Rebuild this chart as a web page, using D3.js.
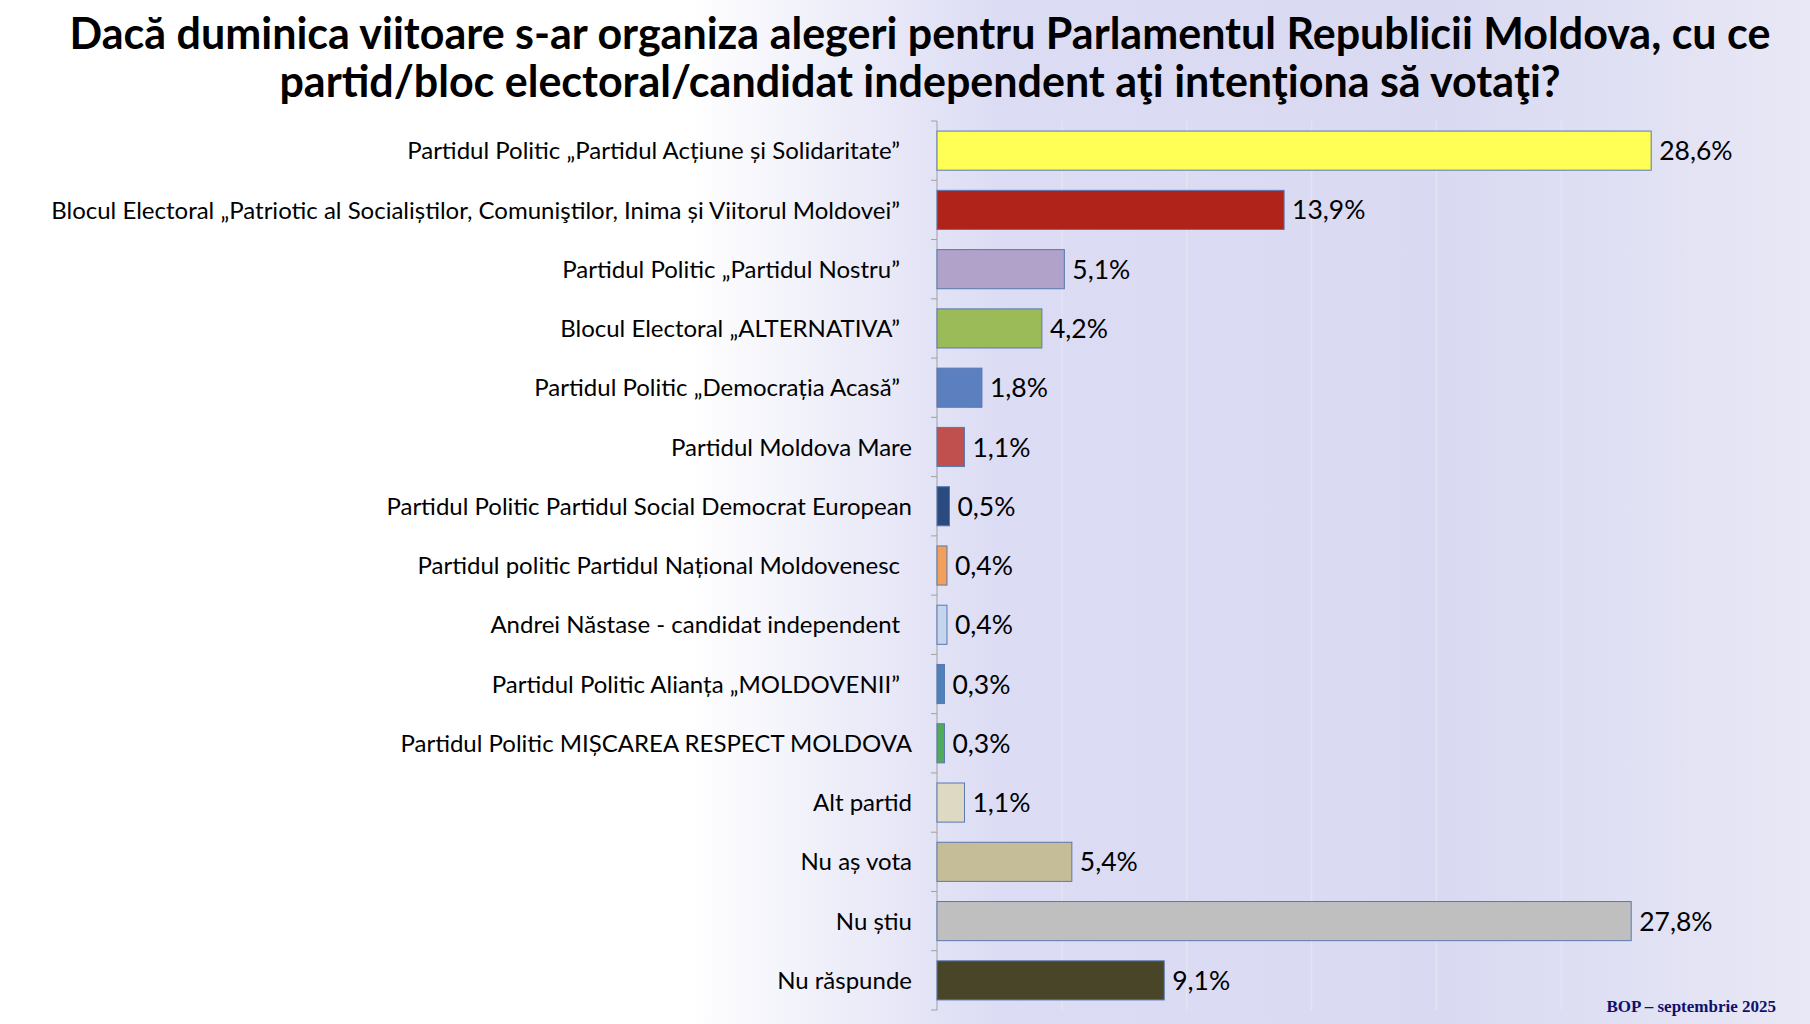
<!DOCTYPE html>
<html><head><meta charset="utf-8">
<script src="https://cdn.jsdelivr.net/npm/d3@7"></script>
<style>
body{margin:0;width:1810px;height:1024px;overflow:hidden;
background:linear-gradient(to right,#ffffff 0%,#ffffff 38%,#dcdcf4 55%,#d9d9f2 80%,#e8e8f6 100%);}
</style></head><body>
<script>
const categories = [
  "Partidul Politic „Partidul Acțiune și Solidaritate”",
  "Blocul Electoral „Patriotic al Socialiștilor, Comuniştilor, Inima și Viitorul Moldovei”",
  "Partidul Politic „Partidul Nostru”",
  "Blocul Electoral „ALTERNATIVA”",
  "Partidul Politic „Democrația Acasă”",
  "Partidul Moldova Mare",
  "Partidul Politic Partidul Social Democrat European",
  "Partidul politic Partidul Național Moldovenesc",
  "Andrei Năstase - candidat independent",
  "Partidul Politic Alianța „MOLDOVENII”",
  "Partidul Politic MIȘCAREA RESPECT MOLDOVA",
  "Alt partid",
  "Nu aș vota",
  "Nu știu",
  "Nu răspunde"
];
const values = [28.6, 13.9, 5.1, 4.2, 1.8, 1.1, 0.5, 0.4, 0.4, 0.3, 0.3, 1.1, 5.4, 27.8, 9.1];
const colors = ["#ffff55","#b0231a","#b0a2c8","#9bbb59","#5b7fbf","#c0504d","#2a4a80","#f0a05a",
  "#c5d5ee","#4f81bd","#4faa5a","#ddd9c3","#c4bd97","#bfbfbf","#494529"];
const gridTicks = [5, 10, 15, 20, 25, 30, 35];
const title = ["Dacă duminica viitoare s-ar organiza alegeri pentru Parlamentul Republicii Moldova, cu ce",
  "partid/bloc electoral/candidat independent aţi intenţiona să votaţi?"];

const width = 1810, height = 1024;
const margin = {top: 121, bottom: 14, left: 937};
const svg = d3.select("body").append("svg").attr("width", width).attr("height", height);

const x = d3.scaleLinear().domain([0, 35]).range([margin.left, margin.left + 874]);
const y = d3.scaleBand().domain(categories).range([margin.top, height - margin.bottom]).paddingInner(0.34).paddingOuter(0.17);

// Grid
svg.append("g").selectAll("line").data(gridTicks).enter().append("line")
  .attr("x1", d => x(d)).attr("x2", d => x(d))
  .attr("y1", margin.top).attr("y2", height - margin.bottom)
  .attr("stroke", "#e4e4f4").attr("stroke-width", 1.5);

// Axis with ticks between categories
const bounds = d3.range(categories.length + 1).map(i => margin.top + i * (height - margin.bottom - margin.top) / categories.length);
svg.append("line").attr("x1", margin.left).attr("x2", margin.left)
  .attr("y1", margin.top).attr("y2", height - margin.bottom).attr("stroke", "#a0a0a0");
svg.append("g").selectAll("line").data(bounds).enter().append("line")
  .attr("x1", margin.left - 6).attr("x2", margin.left).attr("y1", d => d).attr("y2", d => d)
  .attr("stroke", "#a0a0a0");

// Bars
svg.append("g").selectAll("rect").data(values).enter().append("rect")
  .attr("x", x(0)).attr("y", (d, i) => y(categories[i]))
  .attr("width", d => x(d) - x(0)).attr("height", y.bandwidth())
  .attr("fill", (d, i) => colors[i]).attr("stroke", "#5a78b0").attr("stroke-width", 1);

// Value labels
svg.append("g").selectAll("text").data(values).enter().append("text")
  .attr("x", d => x(d) + 8).attr("y", (d, i) => y(categories[i]) + y.bandwidth() / 2)
  .attr("dy", "0.36em").attr("font-family", "Lato, 'Open Sans', sans-serif").attr("font-size", 26.5)
  .attr("fill", "#000").text(d => d.toFixed(1).replace(".", ",") + "%");

// Category labels
svg.append("g").selectAll("text").data(categories).enter().append("text")
  .attr("x", (d, i) => (i === 5 || i === 6 || i >= 10) ? 912 : 900)
  .attr("y", d => y(d) + y.bandwidth() / 2)
  .attr("dy", "0.36em").attr("text-anchor", "end")
  .attr("font-family", "Lato, 'Open Sans', sans-serif").attr("font-size", 24)
  .attr("fill", "#000").text(d => d);

// Title
svg.append("g").selectAll("text").data(title).enter().append("text")
  .attr("x", 920).attr("y", (d, i) => 49 + i * 48).attr("text-anchor", "middle")
  .attr("font-family", "Lato, 'Open Sans', sans-serif").attr("font-weight", "bold")
  .attr("font-size", 43).attr("fill", "#000").text(d => d);

// Footer
svg.append("text").attr("x", 1776).attr("y", 1012).attr("text-anchor", "end")
  .attr("font-family", "'Liberation Serif', serif").attr("font-weight", "bold")
  .attr("font-size", 17).attr("fill", "#10106e").text("BOP – septembrie 2025");
</script>
</body></html>
